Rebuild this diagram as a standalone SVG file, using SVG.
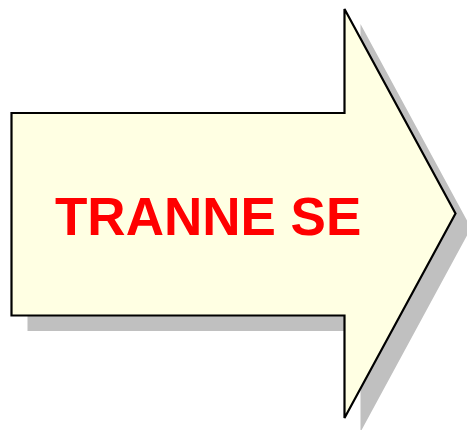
<svg xmlns="http://www.w3.org/2000/svg" width="467" height="430" viewBox="0 0 467 430">
<style>
.shadow{fill:#c0c0c0;stroke:none}
.arrow{fill:#ffffe3;stroke:#000;stroke-width:2.2;stroke-linejoin:miter}
.label{font-family:"Liberation Sans",Arial,sans-serif;font-weight:bold;font-size:53px;fill:#ff0000}
</style>
<g id="arrow-node">
<polygon class="shadow" points="27.5,128.5 360.5,128.5 360.5,24 471,228 360.5,432 360.5,331 27.5,331"/>
<polygon class="arrow" points="11.5,113 344.5,113 344.5,9 455.5,213.5 344.5,418 344.5,315.5 11.5,315.5"/>
<text class="label" x="55" y="235">TRANNE SE</text>
</g>
<g id="connectors"></g>
</svg>
